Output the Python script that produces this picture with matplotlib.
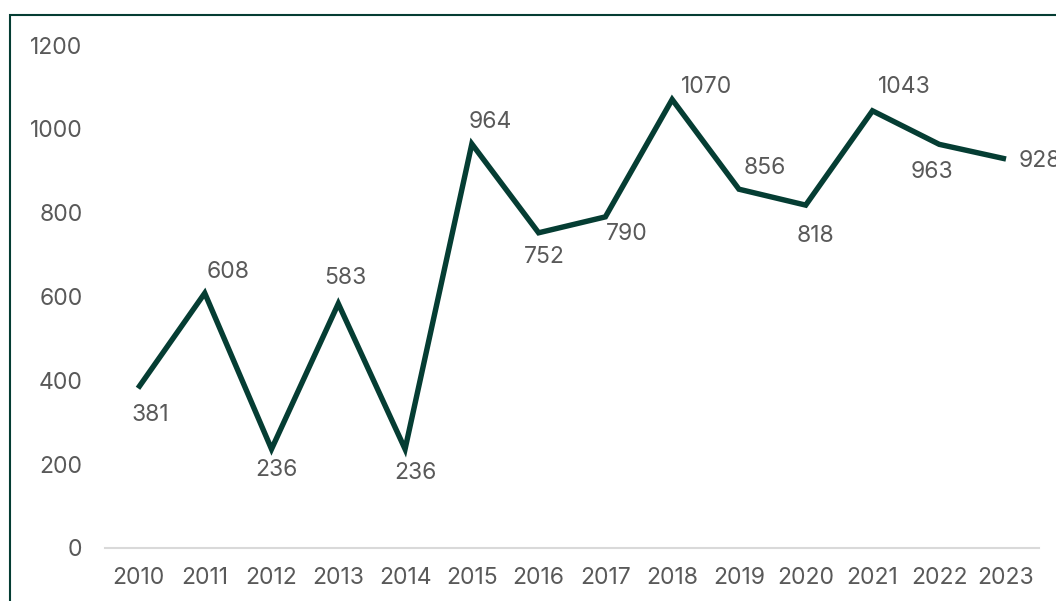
import matplotlib.pyplot as plt
from matplotlib.patches import Rectangle

years = [2010, 2011, 2012, 2013, 2014, 2015, 2016, 2017, 2018, 2019, 2020, 2021, 2022, 2023]
values = [381, 608, 236, 583, 236, 964, 752, 790, 1070, 856, 818, 1043, 963, 928]

# label offsets from each point, in pixels (x right, y up)
label_dx = [12, 23, 5, 7, 10, 18, 6, 21, 34, 26, 10, 32, -7, 34]
label_dy = [-27, 21, -21, 26, -24, 22, -24, -17, 12, 21, -31, 24, -28, -2]

line_color = "#053d33"
text_color = "#595959"

plt.rcParams['font.family'] = ['Inter', 'DejaVu Sans']

fig = plt.figure(figsize=(10.56, 6.01), dpi=100)
ax = fig.add_axes([104.6 / 1056, 53 / 601, (1039.4 - 104.6) / 1056, 503 / 601])

x = list(range(len(years)))
ax.plot(x, values, color=line_color, lw=3.9, solid_joinstyle='miter', solid_capstyle='butt')

for i, v in enumerate(values):
    ax.annotate(str(v), (x[i], v), xytext=(label_dx[i], label_dy[i]),
                textcoords='offset pixels', ha='center', va='center',
                fontsize=16.5, color=text_color, annotation_clip=False)

ax.set_xlim(-0.5, len(years) - 0.5)
ax.set_ylim(0, 1200)
ax.set_yticks(range(0, 1201, 200))
ax.set_xticks(x)
ax.set_xticklabels([str(y) for y in years])

for s in ['top', 'right', 'left']:
    ax.spines[s].set_visible(False)
ax.spines['bottom'].set_color('#d9d9d9')
ax.spines['bottom'].set_linewidth(1.5)
ax.tick_params(axis='both', length=0, labelsize=16.5, labelcolor=text_color)
ax.tick_params(axis='y', pad=16)
ax.tick_params(axis='x', pad=14)

# chart frame (cropped at the right and bottom)
fig.patches.append(Rectangle((10 / 1056, -0.1), 1.2, 0.1 + 586 / 601, transform=fig.transFigure,
                             fill=False, edgecolor=line_color, lw=1.5))

fig.savefig("out.png", dpi=100)
